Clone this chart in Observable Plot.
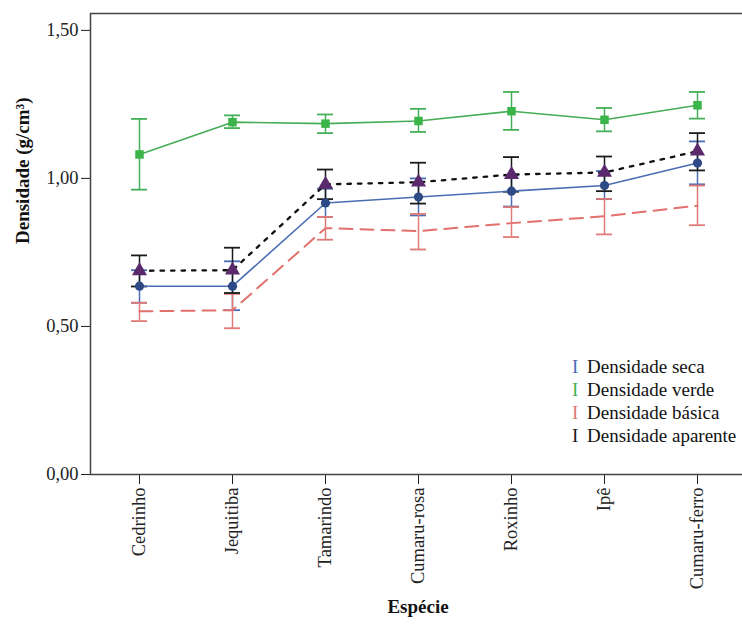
<!DOCTYPE html>
<html>
<head>
<meta charset="utf-8">
<script src="https://cdn.jsdelivr.net/npm/d3@7"></script>
<script src="https://cdn.jsdelivr.net/npm/@observablehq/plot@0.6"></script>
<style>
  html, body { margin: 0; padding: 0; background: #fff; }
  #wrap { position: relative; width: 742px; height: 626px; overflow: hidden; }
  #legend { position: absolute; left: 572px; top: 355px; font-family: "Liberation Serif", serif; font-size: 19px; color: #111; }
  #legend div { height: 23px; line-height: 23px; white-space: nowrap; }
  #legend span.ic { display: inline-block; width: 15px; font-size: 19px; }
</style>
</head>
<body>
<div id="wrap"><div id="legend"></div></div>
<script>
const species = ["Cedrinho", "Jequitiba", "Tamarindo", "Cumaru-rosa", "Roxinho", "Ipê", "Cumaru-ferro"];

const secaMean = [0.636, 0.636, 0.917, 0.937, 0.957, 0.976, 1.052];
const secaLo   = [0.580, 0.555, 0.870, 0.875, 0.905, 0.930, 0.980];
const secaHi   = [0.690, 0.720, 0.965, 1.000, 1.010, 1.025, 1.125];

const verdeMean = [1.081, 1.190, 1.185, 1.194, 1.227, 1.198, 1.247];
const verdeLo   = [0.962, 1.170, 1.153, 1.157, 1.164, 1.159, 1.202];
const verdeHi   = [1.201, 1.213, 1.216, 1.235, 1.292, 1.238, 1.292];

const basicaMean = [0.551, 0.555, 0.832, 0.822, 0.849, 0.872, 0.908];
const basicaLo   = [0.518, 0.494, 0.793, 0.760, 0.802, 0.811, 0.842];
const basicaHi   = [0.580, 0.610, 0.870, 0.880, 0.903, 0.931, 0.976];

const aparenteMean = [0.688, 0.690, 0.980, 0.987, 1.013, 1.020, 1.092];
const aparenteLo   = [0.635, 0.613, 0.930, 0.915, 0.955, 0.957, 1.027];
const aparenteHi   = [0.740, 0.766, 1.030, 1.053, 1.072, 1.074, 1.153];

const seriesNames = ["Densidade seca", "Densidade verde", "Densidade básica", "Densidade aparente"];
const yTicks = [0, 0.5, 1.0, 1.5];
const yLabel = "Densidade (g/cm³)";
const xLabel = "Espécie";

const styles = [
  {mean: secaMean, lo: secaLo, hi: secaHi, line: "#4a6db3", bar: "#4a6db3", fill: "#2d4a86", symbol: "circle", r: 4.6, dash: null, width: 1.6},
  {mean: verdeMean, lo: verdeLo, hi: verdeHi, line: "#45ad55", bar: "#45b058", fill: "#3bb54a", symbol: "square", r: 4.8, dash: null, width: 1.6},
  {mean: basicaMean, lo: basicaLo, hi: basicaHi, line: "#e2706c", bar: "#e07a76", fill: null, symbol: null, r: 0, dash: "13,8", width: 2},
  {mean: aparenteMean, lo: aparenteLo, hi: aparenteHi, line: "#111", bar: "#1a1a1a", fill: "#5a2a6c", symbol: "triangle", r: 5.6, dash: "3.5,7", width: 2.3}
];

const tables = styles.map((s, k) => species.map((sp, i) => ({
  species: sp, serie: seriesNames[k], value: s.mean[i], lo: s.lo[i], hi: s.hi[i]
})));

const marks = [];
styles.forEach((s, k) => {
  const t = tables[k];
  marks.push(Plot.ruleX(t, {x: "species", y1: "lo", y2: "hi", stroke: s.bar, strokeWidth: 1.5}));
  marks.push(Plot.ruleY(t, {x1: "species", x2: "species", y: "lo", insetLeft: -8, insetRight: -8, stroke: s.bar, strokeWidth: 1.8}));
  marks.push(Plot.ruleY(t, {x1: "species", x2: "species", y: "hi", insetLeft: -8, insetRight: -8, stroke: s.bar, strokeWidth: 1.8}));
});
styles.forEach((s, k) => {
  marks.push(Plot.line(tables[k], {x: "species", y: "value", stroke: s.line, strokeWidth: s.width, strokeDasharray: s.dash || undefined}));
});
styles.forEach((s, k) => {
  if (s.symbol) marks.push(Plot.dot(tables[k], {x: "species", y: "value", symbol: s.symbol, r: s.r, fill: s.fill, stroke: "none"}));
});
marks.push(Plot.frame({stroke: "#444", strokeWidth: 1.5}));
marks.push(Plot.text([yLabel], {text: d => d, frameAnchor: "left", dx: -68, rotate: -90, fontWeight: "bold", fontSize: 19, fill: "#111"}));
marks.push(Plot.text([xLabel], {text: d => d, frameAnchor: "bottom", dy: 138, fontWeight: "bold", fontSize: 19, fill: "#111"}));

const chart = Plot.plot({
  width: 742,
  height: 626,
  marginLeft: 90,
  marginRight: -3,
  marginTop: 13,
  marginBottom: 152,
  style: {fontFamily: "Liberation Serif, serif", fontSize: "18.5px", color: "#222", background: "#fff", overflow: "hidden"},
  x: {type: "point", domain: species, padding: 0.5, tickRotate: -90, tickSize: 10, tickPadding: 3, label: null},
  y: {domain: [0, 1.557], ticks: yTicks, tickFormat: d => d.toFixed(2).replace(".", ","), tickSize: 9, tickPadding: 3, label: null},
  marks
});
document.getElementById("wrap").prepend(chart);

const legend = document.getElementById("legend");
styles.forEach((s, k) => {
  const row = document.createElement("div");
  const ic = document.createElement("span");
  ic.className = "ic";
  ic.textContent = "I";
  ic.style.color = s.bar;
  row.appendChild(ic);
  row.appendChild(document.createTextNode(seriesNames[k]));
  legend.appendChild(row);
});
</script>
</body>
</html>
